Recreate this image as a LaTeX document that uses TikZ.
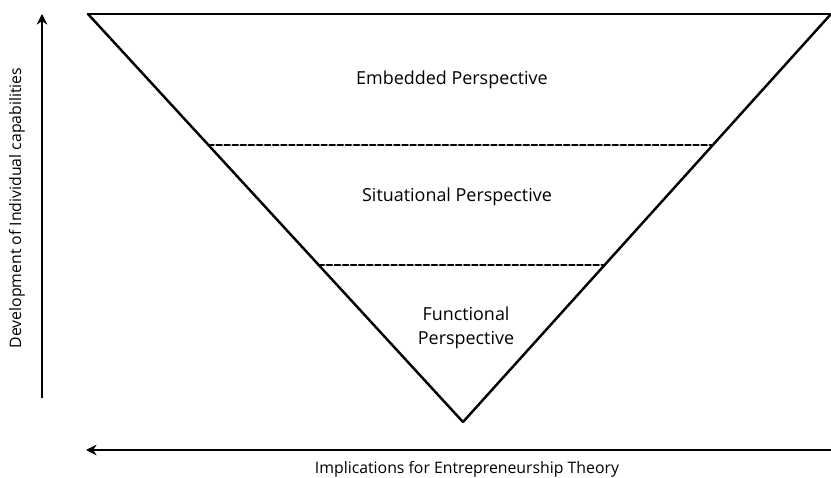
\documentclass[tikz,border=0pt]{standalone}
\usepackage{fontspec}
\setmainfont{Open Sans}
\usepackage{tikz}
\usepackage{tkz-euclide}
\usepackage{xcolor}
\usetikzlibrary{arrows.meta,calc}
\tikzset{
    side/.style={line width=1.4pt},
    level/.style={line width=1.4pt,dash pattern=on 3pt off 1.6pt},
    axis/.style={line width=1.5pt,-{Stealth[length=6pt,width=6pt]}},
    persp/.style={font=\fontsize{10.2}{13.6}\selectfont,align=center},
    axlabel/.style={font=\fontsize{9}{11}\selectfont}
}

\begin{document}
\begin{tikzpicture}
    \useasboundingbox (0,0) rectangle (16.62,9.56);
    \tkzDefPoints{1.76/9.28/A,16.62/9.28/B,9.26/1.12/C}
    \tkzDefPoints{0.84/1.6/Y0,0.84/9.28/Y1,16.62/0.56/X0,1.72/0.56/X1}
    \coordinate (P) at ($(A)!0.321!(C)$);
    \coordinate (Q) at ($(B)!0.321!(C)$);
    \coordinate (R) at ($(A)!0.615!(C)$);
    \coordinate (S) at ($(B)!0.615!(C)$);
    \tkzDrawSegments[side](A,B B,C C,A)
    \tkzDrawSegments[level](P,Q R,S)
    \draw[axis] (Y0) -- (Y1);
    \draw[axis] (X0) -- (X1);
    \node[persp] (emb) at (9.04,7.96) {Embedded Perspective};
    \node[persp] (sit) at (9.14,5.62) {Situational Perspective};
    \node[persp] (fun) at (9.32,3.0) {Functional\\Perspective};
    \node[axlabel,rotate=90] (dev) at (0.34,5.4) {Development of Individual capabilities};
    \node[axlabel] (imp) at (9.34,0.18) {Implications for Entrepreneurship Theory};
\end{tikzpicture}
\end{document}
